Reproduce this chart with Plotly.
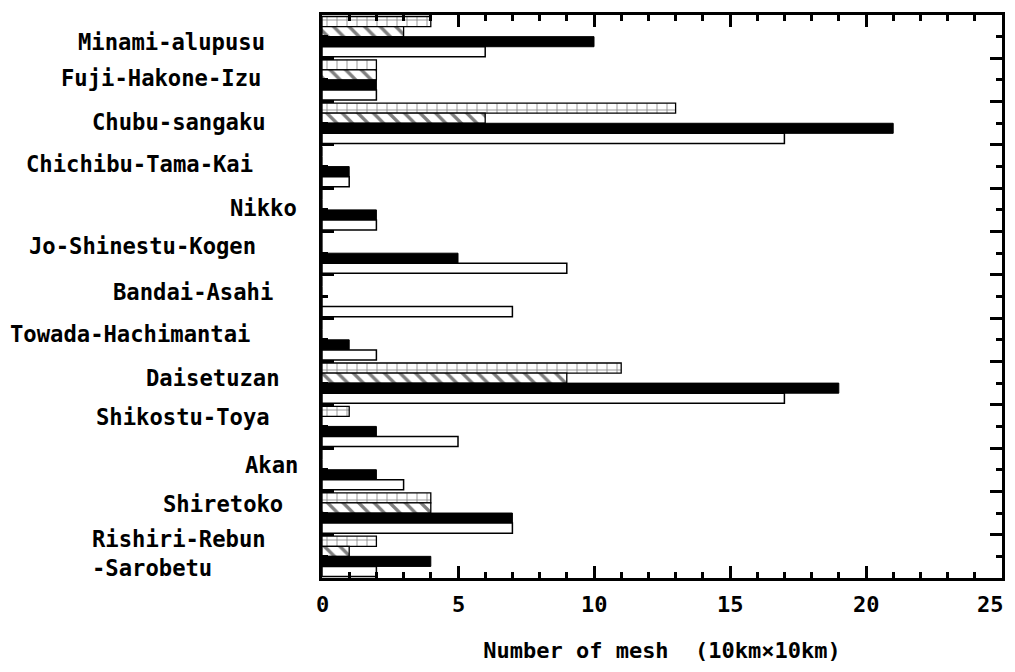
import plotly.graph_objects as go

# ---- data (top to bottom) ----
parks = ["Minami-alupusu", "Fuji-Hakone-Izu", "Chubu-sangaku", "Chichibu-Tama-Kai",
         "Nikko", "Jo-Shinestu-Kogen", "Bandai-Asahi", "Towada-Hachimantai",
         "Daisetuzan", "Shikostu-Toya", "Akan", "Shiretoko", "Rishiri-Rebun<br>-Sarobetu"]
grid_vals  = [4, 2, 13, 0, 0, 0, 0, 0, 11, 1, 0, 4, 2]
hatch_vals = [3, 2, 6, 0, 0, 0, 0, 0, 9, 0, 0, 4, 1]
black_vals = [10, 2, 21, 1, 2, 5, 0, 1, 19, 2, 2, 7, 4]
white_vals = [6, 2, 17, 1, 2, 9, 7, 2, 17, 5, 3, 7, 2]
x_ticks = [0, 5, 10, 15, 20, 25]

# label layout (pixel right edges and vertical nudges, layout only)
label_right_px = [267, 263, 268, 255, 299, 258, 275, 252, 282, 272, 300, 285, 268]
label_yshift   = [-5, 2, 1, 3, 2, 7, 5, 6, 5, 9, 5, 9, 3]
PLOT_LEFT_PX = 322

FONT = "DejaVu Sans Mono"
pos = list(range(len(parks)))

fig = go.Figure()
fig.add_trace(go.Bar(y=pos, x=grid_vals, orientation="h",
                     marker=dict(color="white", line=dict(color="black", width=1.3),
                                 pattern=dict(shape="+", size=10, solidity=0.15,
                                              fgcolor="black", bgcolor="white"))))
fig.add_trace(go.Bar(y=pos, x=hatch_vals, orientation="h",
                     marker=dict(color="white", line=dict(color="black", width=1.3),
                                 pattern=dict(shape="\\", size=11, solidity=0.3,
                                              fgcolor="black", bgcolor="white"))))
fig.add_trace(go.Bar(y=pos, x=black_vals, orientation="h",
                     marker=dict(color="black", line=dict(color="black", width=1))))
fig.add_trace(go.Bar(y=pos, x=white_vals, orientation="h",
                     marker=dict(color="white", line=dict(color="black", width=1.5))))

annotations = []
for i, name in enumerate(parks):
    annotations.append(dict(
        x=0, xref="paper", y=i, yref="y", xanchor="right", yanchor="middle",
        xshift=label_right_px[i] - PLOT_LEFT_PX, yshift=label_yshift[i],
        text=name, showarrow=False, align="left",
        font=dict(family=FONT, size=22.2, color="black", weight="bold")))

# x tick labels drawn as text at the tick values (last one kept inside the page)
for v in x_ticks:
    last = (v == x_ticks[-1])
    annotations.append(dict(
        x=v, xref="x", y=0, yref="paper", yanchor="top",
        xanchor="right" if last else "center", xshift=4 if last else 0, yshift=-12,
        text=str(v), showarrow=False,
        font=dict(family=FONT, size=22, color="black", weight="bold")))

fig.update_layout(
    width=1007, height=655,
    margin=dict(l=314, r=13, t=7, b=85, autoexpand=False),
    paper_bgcolor="white", plot_bgcolor="white",
    barmode="group", bargap=0.07, bargroupgap=0,
    showlegend=False,
    annotations=annotations,
    xaxis=dict(
        range=[0, 25], tickmode="array", tickvals=x_ticks, automargin=False,
        showticklabels=False,
        ticks="inside", ticklen=12, tickwidth=3, tickcolor="black",
        showline=True, linewidth=3, linecolor="black", mirror="allticks",
        showgrid=False, zeroline=False,
        minor=dict(dtick=1, ticks="inside", ticklen=6, tickwidth=3, tickcolor="black"),
        title=dict(text="Number of mesh  (10km×10km)", standoff=65,
                   font=dict(family=FONT, size=22, color="black", weight="bold")),
    ),
    yaxis=dict(
        range=[len(parks) - 0.5, -0.5], tickmode="array", automargin=False,
        tickvals=[i - 0.5 for i in range(len(parks) + 1)],
        showticklabels=False,
        ticks="inside", ticklen=12, tickwidth=3, tickcolor="black",
        showline=True, linewidth=3, linecolor="black", mirror="allticks",
        showgrid=False, zeroline=False,
        minor=dict(tickmode="array", tickvals=pos, ticks="inside", ticklen=6,
                   tickwidth=3, tickcolor="black"),
    ),
)

fig.write_html("out.html")
